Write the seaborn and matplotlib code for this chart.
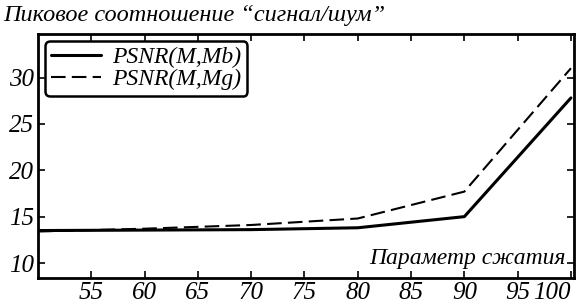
import numpy as np
import pandas as pd
import matplotlib
matplotlib.use('Agg')
import matplotlib.pyplot as plt
import seaborn as sns

# values
quality = [50, 60, 70, 80, 90, 100]
psnr_mb = [13.5, 13.55, 13.6, 13.8, 15.0, 27.8]
psnr_mg = [13.4, 13.7, 14.1, 14.8, 17.7, 31.0]
series_names = ['PSNR(M,Mb)', 'PSNR(M,Mg)']
x_ticks = [55, 60, 65, 70, 75, 80, 85, 90, 95, 100]
y_ticks = [10, 15, 20, 25, 30]

df = pd.concat([
    pd.DataFrame({'q': quality, 'psnr': psnr_mb, 'name': series_names[0]}),
    pd.DataFrame({'q': quality, 'psnr': psnr_mg, 'name': series_names[1]}),
], ignore_index=True)

sns.set_style('ticks')
plt.rcParams['font.family'] = ['Liberation Serif', 'DejaVu Serif']
plt.rcParams['font.style'] = 'italic'
for k in ['text.color', 'axes.edgecolor', 'xtick.color', 'ytick.color', 'axes.labelcolor']:
    plt.rcParams[k] = 'black'

fig = plt.figure(figsize=(5.77, 3.03), dpi=100)
ax = fig.add_axes([0.066, 0.083, 0.929, 0.805])

sns.lineplot(x='q', y='psnr', hue='name', style='name', data=df, ax=ax,
             palette=['black', 'black'], dashes={series_names[0]: '', series_names[1]: (7, 3)},
             hue_order=series_names, style_order=series_names)
for line, lw in zip(ax.get_lines()[:2], [2.2, 1.5]):
    line.set_linewidth(lw)

ax.set_xlim(50, 100.3)
ax.set_ylim(8.4, 34.7)
ax.set_xticks(x_ticks)
ax.set_yticks(y_ticks)
ax.tick_params(direction='in', length=5, width=1.2, labelsize=18, top=True, right=True, pad=3)
for lab in ax.get_xticklabels() + ax.get_yticklabels():
    lab.set_fontstyle('italic')
# last label sits at the figure edge, keep it inside
ax.get_xticklabels()[-1].set_horizontalalignment('right')
for sp in ax.spines.values():
    sp.set_linewidth(2)
    sp.set_visible(True)

ax.set_xlabel('')
ax.set_ylabel('')
ax.text(0.985, 0.035, 'Параметр сжатия', transform=ax.transAxes, ha='right', va='bottom',
        fontsize=17, fontstyle='italic', bbox=dict(facecolor='white', edgecolor='none', pad=1))
fig.text(0.005, 0.985, 'Пиковое соотношение “сигнал/шум”', ha='left', va='top',
         fontsize=17.5, fontstyle='italic')

handles, labels = ax.get_legend_handles_labels()
leg = ax.legend(handles, labels, loc='upper left', fontsize=17, frameon=True, fancybox=True,
                handlelength=2.1, handletextpad=0.5, borderaxespad=0.3, labelspacing=0.0,
                borderpad=0.25)
leg.get_frame().set_edgecolor('black')
leg.get_frame().set_linewidth(1.8)
leg.get_frame().set_alpha(1)
for t in leg.get_texts():
    t.set_fontstyle('italic')
for l, lw in zip(leg.get_lines(), [2.2, 1.5]):
    l.set_linewidth(lw)

fig.savefig('out.png', dpi=100)
